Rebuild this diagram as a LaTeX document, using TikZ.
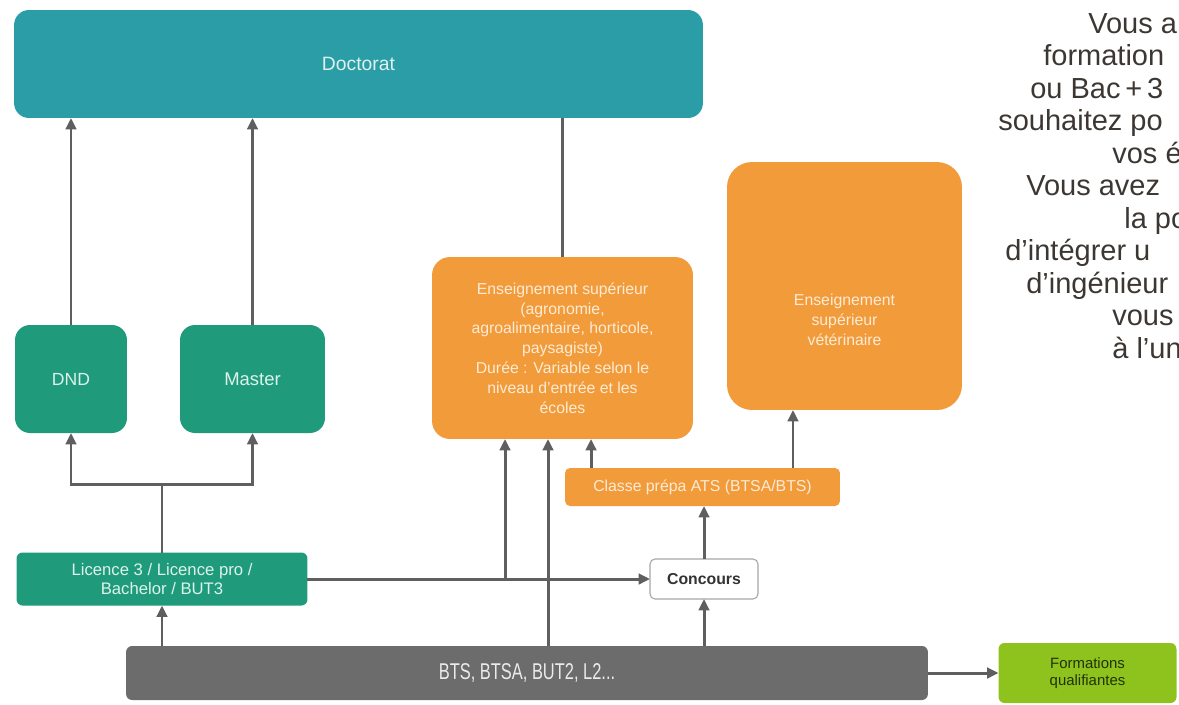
\documentclass[tikz,border=0pt]{standalone}
\usepackage{fontspec}
\setmainfont{Liberation Sans}
\newfontfamily\narrowfont[FakeStretch=0.72]{Liberation Sans}
\usetikzlibrary{arrows.meta}

\definecolor{doccol}{HTML}{2B9DA7}
\definecolor{licgreen}{HTML}{1F9B7C}
\definecolor{orangebox}{HTML}{F29B3A}
\definecolor{btsgray}{HTML}{6C6C6C}
\definecolor{arrgray}{HTML}{5F5F5F}
\definecolor{limebox}{HTML}{8EC31E}
\definecolor{orangetxt}{HTML}{FDEBD6}
\definecolor{greentxt}{HTML}{DDF2EC}
\definecolor{bodytxt}{HTML}{3C3732}

\tikzset{
  box/.style={inner sep=0pt, outer sep=0pt, align=center},
  greenbox/.style={box, fill=licgreen, text=greentxt, rounded corners=0.3cm},
  orbox/.style={box, fill=orangebox, text=orangetxt, rounded corners=0.36cm,
    font=\fontsize{9}{11.3}\selectfont},
  link/.style={draw=arrgray, line width=1.7pt},
  arr/.style={link, -{Triangle[length=6.5pt,width=6pt]}},
}

\begin{document}
\begin{tikzpicture}[x=0.02cm,y=-0.02cm]
\useasboundingbox (0,0) rectangle (1179,704);

% top
\node[box, fill=doccol, text=greentxt, rounded corners=0.3cm, minimum width=13.78cm,
  minimum height=2.16cm, font=\fontsize{11}{13}\selectfont] (doc) at (358.5,64) {Doctorat};

% green column
\node[greenbox, minimum width=2.24cm, minimum height=2.16cm,
  font=\fontsize{10}{12}\selectfont] (dnd) at (71,379) {DND};
\node[greenbox, minimum width=2.90cm, minimum height=2.16cm,
  font=\fontsize{10.5}{12}\selectfont] (master) at (252.5,379) {Master};
\node[greenbox, rounded corners=0.12cm, minimum width=5.82cm, minimum height=1.06cm,
  font=\fontsize{9.5}{11}\selectfont] (lic) at (162,579) {Licence 3 / Licence pro /\\Bachelor / BUT3};

% orange column
\node[orbox, minimum width=5.22cm, minimum height=3.64cm] (sup) at (562.5,348)
  {Enseignement supérieur\\(agronomie,\\agroalimentaire, horticole,\\paysagiste)\\Durée : Variable selon le\\niveau d’entrée et les\\écoles};
\node[orbox, rounded corners=0.5cm, minimum width=4.70cm, minimum height=4.96cm] (veto) at (844.5,286) {};
\node[box, text=orangetxt, font=\fontsize{9}{11.3}\selectfont] (vetotxt)
  at ([yshift=-0.68cm]veto.center) {Enseignement\\supérieur\\vétérinaire};
\node[orbox, rounded corners=0.1cm, minimum width=5.50cm, minimum height=0.76cm] (prepa)
  at (702.5,487) {Classe prépa ATS (BTSA/BTS)};

\node[box, fill=white, draw=black!35, line width=0.6pt, rounded corners=0.1cm,
  minimum width=2.16cm, minimum height=0.80cm, text=black!80,
  font=\bfseries\fontsize{9}{11}\selectfont] (conc) at (704,579) {Concours};

% bottom
\node[box, fill=btsgray, text=white!92!black, rounded corners=0.12cm, minimum width=16.04cm,
  minimum height=1.08cm, font=\narrowfont\fontsize{13}{15}\selectfont] (bts) at (527,673) {BTS, BTSA, BUT2, L2...};
\node[box, fill=limebox, text=black!75!limebox, rounded corners=0.12cm, minimum width=3.56cm,
  minimum height=1.20cm, font=\fontsize{8.5}{10}\selectfont] (fq) at (1087.5,673) {Formations\\qualifiantes};

% links
\draw[arr] (dnd.north) -- (dnd.north |- doc.south);
\draw[arr] (master.north) -- (master.north |- doc.south);
\draw[link] (sup.north) -- (sup.north |- doc.south);

\coordinate (jn) at (162,484);
\draw[link] (lic.north) -- (jn);
\draw[arr] (jn) -| (dnd.south);
\draw[arr] (jn) -| (master.south);

\draw[arr] (lic.east) -- (conc.west);
\coordinate (br) at (505,579);
\draw[arr] (br) -- (br |- sup.south);
\coordinate (vbts) at (548,646);
\draw[arr] (vbts) -- (vbts |- sup.south);

\draw[arr] (lic.south |- bts.north) -- (lic.south);
\draw[arr] (conc.south |- bts.north) -- (conc.south);
\draw[arr] (conc.north) -- (conc.north |- prepa.south);

\coordinate (pa) at ([xshift=-2.23cm]prepa.north);
\coordinate (pb) at ([xshift=1.81cm]prepa.north);
\draw[arr] (pa) -- (pa |- sup.south);
\draw[arr] (pb) -- (pb |- veto.south);

\draw[arr] (bts.east) -- (fq.west);

% side text
\foreach \xx/\txt [count=\i from 0] in {1088/Vous a, 1043/formation, 1030/ou Bac\,+\,3,
    998/souhaitez po, 1112/vos é, 1026/Vous avez, 1124/la po, 1005/d’intégrer u,
    1026/d’ingénieur, 1112/vous, 1112/à l’un}
  \node[anchor=base west, inner sep=0pt, text=bodytxt,
    font=\fontsize{16.5}{18}\selectfont] (para\i) at (\xx,33+32.5*\i) {\txt};

\end{tikzpicture}
\end{document}
